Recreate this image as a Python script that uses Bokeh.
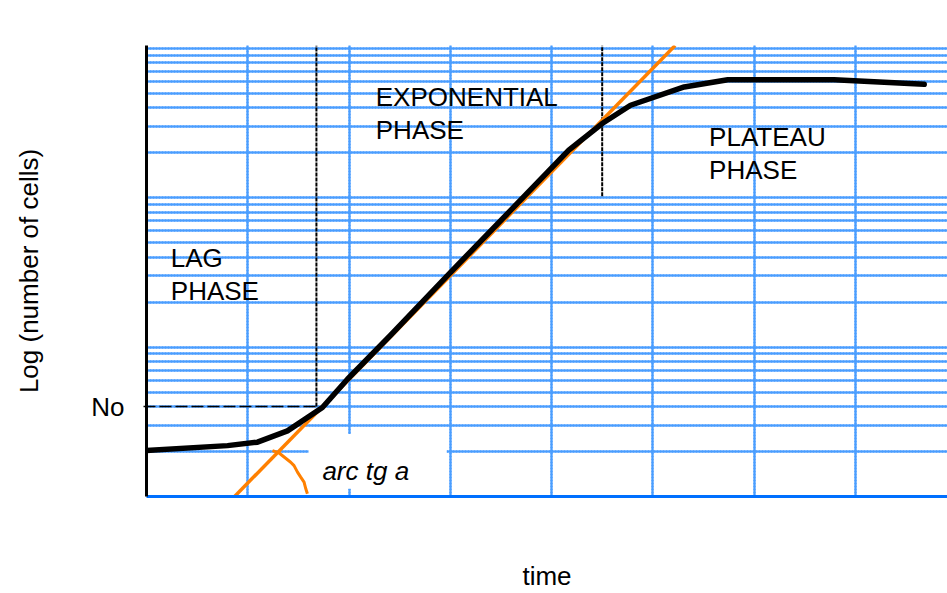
from bokeh.plotting import figure
from bokeh.models import FixedTicker, Range1d, Label, Grid
from bokeh.embed import file_html
from bokeh.resources import INLINE

# ---- data ----
curve_x = [0.0, 0.80, 1.096, 1.392, 1.737, 1.984, 2.41, 3.00, 3.60, 4.17, 4.50, 4.78, 5.31, 5.74, 6.79, 7.68]
curve_y = [2.03, 2.19, 2.31, 2.75, 3.94, 6.09, 12.0, 31.5, 82.8, 208, 313, 415, 550, 615, 615, 573]

tangent_x = [0.87, 5.22]
tangent_y = [1.0, 1042]

arc_x = [1.244, 1.309, 1.424, 1.457, 1.491, 1.523, 1.556, 1.573, 1.589]
arc_y = [2.026, 1.956, 1.696, 1.609, 1.455, 1.347, 1.247, 1.126, 1.042]

n0 = 4            # "No" level
t0 = 1.678        # t = 0 position
t_plateau = 4.50  # start of plateau marker
plateau_level = 102

grid_x = [1, 2, 3, 4, 5, 6, 7]
grid_y = [m * 10 ** d for d in range(3) for m in range(1, 10)] + [1000]

FONT = "Liberation Sans"
BLUE = "#0070FF"
LIGHT_BLUE = "#4A9EFF"

p = figure(width=947, height=593, y_axis_type="log",
           x_range=Range1d(0, 7.91), y_range=Range1d(1, 1042),
           output_backend="svg", toolbar_location=None,
           min_border_left=146, min_border_right=0,
           min_border_top=45, min_border_bottom=95)
p.outline_line_color = None
p.background_fill_color = "white"

# grids: light solid base + darker dashed line on top
p.add_layout(Grid(dimension=0, ticker=FixedTicker(ticks=grid_x),
                  grid_line_color=LIGHT_BLUE, grid_line_width=2))
p.add_layout(Grid(dimension=1, ticker=FixedTicker(ticks=grid_y),
                  grid_line_color=LIGHT_BLUE, grid_line_width=2))
p.xgrid[0].ticker = FixedTicker(ticks=grid_x)
p.ygrid[0].ticker = FixedTicker(ticks=grid_y)
for g in (p.xgrid[0], p.ygrid[0]):
    g.grid_line_color = BLUE
    g.grid_line_width = 2
    g.grid_line_dash = "2 1"

# y axis
p.yaxis.ticker = FixedTicker(ticks=[n0])
p.yaxis.major_label_overrides = {n0: "No"}
p.yaxis.axis_line_color = "black"
p.yaxis.axis_line_width = 3
p.yaxis.major_tick_in = 0
p.yaxis.major_tick_out = 3
p.yaxis.major_tick_line_width = 1.5
p.yaxis.minor_tick_line_color = None
p.yaxis.major_label_standoff = 19
p.yaxis.major_label_text_font = FONT
p.yaxis.major_label_text_font_size = "26px"
p.yaxis.major_label_text_color = "black"
p.yaxis.axis_label = "Log (number of cells)"
p.yaxis.axis_label_text_font = FONT
p.yaxis.axis_label_text_font_size = "26px"
p.yaxis.axis_label_text_font_style = "normal"
p.yaxis.axis_label_text_color = "black"
p.yaxis.axis_label_standoff = 44

# x axis
p.xaxis.ticker = FixedTicker(ticks=[])
p.xaxis.axis_line_color = BLUE
p.xaxis.axis_line_width = 3
p.xaxis.major_tick_line_color = None
p.xaxis.minor_tick_line_color = None
p.xaxis.major_label_standoff = 0
p.xaxis.axis_label = "time"
p.xaxis.axis_label_text_font = FONT
p.xaxis.axis_label_text_font_size = "26px"
p.xaxis.axis_label_text_font_style = "normal"
p.xaxis.axis_label_text_color = "black"
p.xaxis.axis_label_standoff = 64

# white box behind "arc tg a"
p.quad(left=1.60, right=2.965, bottom=1.125, top=2.618,
       fill_color="white", line_color=None)

# reference lines
p.line([-0.03, t0], [n0, n0], line_color="black", line_width=1.5, line_dash="12 4")
p.line([t0, t0], [n0, 1042], line_color="black", line_width=2, line_dash="4 1")
p.line([t_plateau, t_plateau], [plateau_level, 1042], line_color="black",
       line_width=2, line_dash="4 1")

# tangent and arc
p.line(tangent_x, tangent_y, line_color="#FF8000", line_width=3.5)
p.line(arc_x, arc_y, line_color="#FF8000", line_width=3)

# growth curve
p.line(curve_x, curve_y, line_color="black", line_width=5.5, line_join="round", line_cap="round")

def lab(x, y, text, baseline="top", style="normal", align="left"):
    p.add_layout(Label(x=x, y=y, text=text, text_font=FONT, text_font_size="26px",
                       text_color="black", text_baseline=baseline, text_align=align,
                       text_font_style=style, text_line_height=1.1))

lab(2.264, 590, "EXPONENTIAL\nPHASE")
lab(5.556, 321, "PLATEAU\nPHASE")
lab(0.24, 49.7, "LAG\nPHASE")
lab(1.737, 1.49, "arc tg a", baseline="alphabetic", style="italic")
lab(1.503, 1353, "t = 0", baseline="alphabetic")

open("out.html", "w").write(file_html(p, INLINE))
